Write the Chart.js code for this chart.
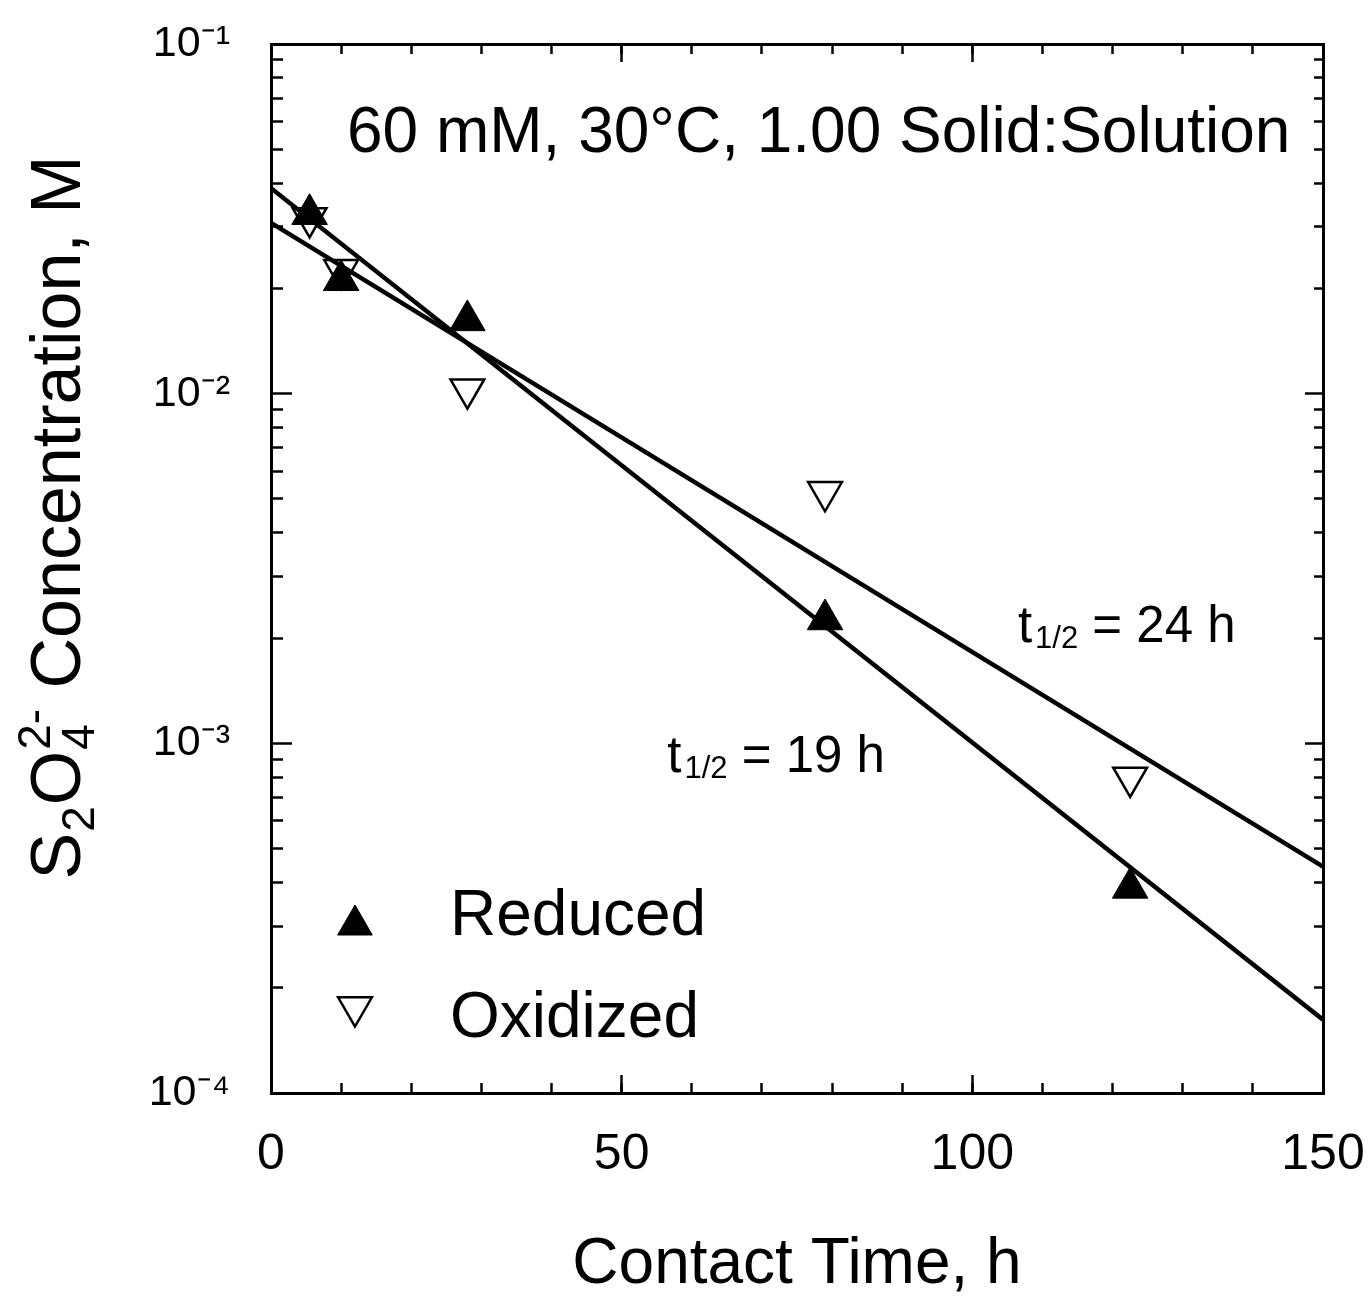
<!DOCTYPE html>
<html><head><meta charset="utf-8">
<script src="https://cdn.jsdelivr.net/npm/chart.js@4/dist/chart.umd.min.js"></script>
<style>html,body{margin:0;padding:0;background:#fff;}canvas{display:block;}</style>
</head><body>
<canvas id="c" width="1368" height="1304"></canvas>
<script>
// ---- data ----
const contactTime   = [5.5, 10, 28, 79, 122.5];
const reducedConc   = [0.0326, 0.0211, 0.0162, 0.00226, 0.000386];
const oxidizedConc  = [0.0318, 0.0226, 0.0103, 0.00524, 0.000799];
const fitTime       = [0, 150];
const reducedFit    = [0.0387, 0.000162];
const oxidizedFit   = [0.0308, 0.000444];
const seriesNames   = ['Reduced', 'Oxidized'];
const xTickValues   = [0, 50, 100, 150];
const yDecadeExp    = [-4, -3, -2, -1];
const yTickLabels   = ['10\u207B\u2074', '10\u207B\u00B3', '10\u207B\u00B2', '10\u207B\u00B9'];
const yMinorMult    = [2, 3, 4, 5, 6, 7, 8, 9];
const conditionText = '60 mM, 30\u00B0C, 1.00 Solid:Solution';
const halfLifeText  = ['19 h', '24 h'];
const xTitle = 'Contact Time, h';
// y title pieces: S2O4(2-) Concentration, M
const yTitleParts = [
  {t: 'S'}, {sub: '2'}, {t: 'O'}, {sub: '4', sup: '2-'}, {t: ' Concentration, M'}
];

const FONT = "'Liberation Sans', Arial, Helvetica, sans-serif";
const BLACK = '#000';

const decadeTicks = () => yDecadeExp.map(e => ({value: Number('1e' + e)}));
const minorTicks = () => {
  const t = [];
  yDecadeExp.forEach(e => { if (e < -1) yMinorMult.forEach(m => t.push({value: Number(m + 'e' + e)})); });
  return t;
};

const pts = (xs, ys) => xs.map((x, i) => ({x, y: ys[i]}));

function axisBase(pos, len, width) {
  return {
    position: pos,
    grid: {display: true, drawOnChartArea: false, drawTicks: true, tickLength: -len, tickWidth: width, tickColor: BLACK},
    border: {display: false},
  };
}

const xCommon = {type: 'linear', min: 0, max: 150};
const yCommon = {type: 'logarithmic', min: 1e-4, max: 1e-1};

const scales = {
  x: Object.assign({}, xCommon, axisBase('bottom', 18, 2.5), {
    weight: 1,
    border: {display: true, color: BLACK, width: 3},
    afterBuildTicks: s => { s.ticks = xTickValues.map(v => ({value: v})); },
    ticks: {color: BLACK, padding: 50, font: {family: FONT, size: 50}, autoSkip: false, maxRotation: 0},
    title: {display: true, text: xTitle, color: BLACK, font: {family: FONT, size: 64}, padding: {top: 0, bottom: 0}},
    afterFit: s => { s.height = 211; s.paddingLeft = 0; s.paddingRight = 0; }
  }),
  xMinor: Object.assign({}, xCommon, axisBase('bottom', 10, 2.5), {
    weight: 0, ticks: {display: false, stepSize: 10}, afterFit: s => { s.height = 0; }
  }),
  xTop: Object.assign({}, xCommon, axisBase('top', 18, 2.5), {
    weight: 1, border: {display: true, color: BLACK, width: 3},
    afterBuildTicks: s => { s.ticks = xTickValues.map(v => ({value: v})); },
    ticks: {display: false}, afterFit: s => { s.height = 0; }
  }),
  xTopMinor: Object.assign({}, xCommon, axisBase('top', 10, 2.5), {
    weight: 0, ticks: {display: false, stepSize: 10}, afterFit: s => { s.height = 0; }
  }),
  y: Object.assign({}, yCommon, axisBase('left', 21, 2.5), {
    weight: 1,
    border: {display: true, color: BLACK, width: 3},
    afterBuildTicks: s => { s.ticks = decadeTicks(); },
    ticks: {color: BLACK, padding: 62, font: {family: FONT, size: 43}, autoSkip: false,
            callback: (v, i) => yTickLabels[i]},
    title: {display: false},
    afterFit: s => { s.width = 271; s.paddingTop = 0; s.paddingBottom = 0; }
  }),
  yMinor: Object.assign({}, yCommon, axisBase('left', 12, 2.5), {
    weight: 0, afterBuildTicks: s => { s.ticks = minorTicks(); },
    ticks: {display: false}, afterFit: s => { s.width = 0; }
  }),
  yRight: Object.assign({}, yCommon, axisBase('right', 18, 2.5), {
    weight: 1, border: {display: true, color: BLACK, width: 3},
    afterBuildTicks: s => { s.ticks = decadeTicks(); },
    ticks: {display: false}, afterFit: s => { s.width = 0; }
  }),
  yRightMinor: Object.assign({}, yCommon, axisBase('right', 9, 2.5), {
    weight: 0, afterBuildTicks: s => { s.ticks = minorTicks(); },
    ticks: {display: false}, afterFit: s => { s.width = 0; }
  })
};

const datasets = [
  {label: seriesNames[0], data: pts(contactTime, reducedConc), xAxisID: 'x', yAxisID: 'y',
   pointStyle: 'triangle', pointRadius: 20.5, pointBorderWidth: 1, rotation: 0,
   backgroundColor: BLACK, borderColor: BLACK, showLine: false},
  {label: seriesNames[1], data: pts(contactTime, oxidizedConc), xAxisID: 'x', yAxisID: 'y',
   pointStyle: 'triangle', pointRadius: 19.5, pointBorderWidth: 2.5, rotation: 180,
   backgroundColor: 'rgba(0,0,0,0)', borderColor: BLACK, showLine: false},
  {label: seriesNames[0] + ' fit', data: pts(fitTime, reducedFit), xAxisID: 'x', yAxisID: 'y',
   showLine: true, pointRadius: 0, borderColor: BLACK, borderWidth: 4.5, fill: false},
  {label: seriesNames[1] + ' fit', data: pts(fitTime, oxidizedFit), xAxisID: 'x', yAxisID: 'y',
   showLine: true, pointRadius: 0, borderColor: BLACK, borderWidth: 4.5, fill: false}
];

function drawTri(ctx, x, y, r, rot, filled, lw) {
  ctx.save();
  ctx.beginPath();
  let rad = rot * Math.PI / 180;
  for (let k = 0; k < 3; k++) {
    const px = x + Math.sin(rad) * r, py = y - Math.cos(rad) * r;
    if (k === 0) ctx.moveTo(px, py); else ctx.lineTo(px, py);
    rad += 2 * Math.PI / 3;
  }
  ctx.closePath();
  ctx.fillStyle = BLACK; ctx.strokeStyle = BLACK; ctx.lineWidth = lw;
  if (filled) ctx.fill();
  ctx.stroke();
  ctx.restore();
}

function drawHalfLife(ctx, x, y, rest) {
  ctx.save();
  ctx.fillStyle = BLACK;
  ctx.textBaseline = 'alphabetic';
  ctx.textAlign = 'left';
  ctx.font = '51px ' + FONT;
  ctx.fillText('t', x, y);
  let cx = x + ctx.measureText('t').width + 3;
  ctx.font = '31px ' + FONT;
  ctx.fillText('1/2', cx, y + 6);
  cx += ctx.measureText('1/2').width;
  ctx.font = '51px ' + FONT;
  ctx.fillText(' = ' + rest, cx, y);
  ctx.restore();
}

function drawYTitle(ctx, baseX, centerY) {
  const MAIN = 70, SCRIPT = 46, SUBDY = 14, SUPDY = -30;
  ctx.save();
  ctx.fillStyle = BLACK;
  ctx.textBaseline = 'alphabetic';
  ctx.textAlign = 'left';
  const widthOf = p => {
    if (p.t) { ctx.font = MAIN + 'px ' + FONT; return ctx.measureText(p.t).width; }
    ctx.font = SCRIPT + 'px ' + FONT;
    return Math.max(p.sub ? ctx.measureText(p.sub).width : 0, p.sup ? ctx.measureText(p.sup).width : 0) + 2;
  };
  const total = yTitleParts.reduce((s, p) => s + widthOf(p), 0);
  ctx.translate(baseX, centerY);
  ctx.rotate(-Math.PI / 2);
  let cx = -total / 2;
  yTitleParts.forEach(p => {
    const w = widthOf(p);
    if (p.t) { ctx.font = MAIN + 'px ' + FONT; ctx.fillText(p.t, cx, 0); }
    else {
      ctx.font = SCRIPT + 'px ' + FONT;
      if (p.sub) ctx.fillText(p.sub, cx + 1, SUBDY);
      if (p.sup) ctx.fillText(p.sup, cx + 1, SUPDY);
    }
    cx += w;
  });
  ctx.restore();
}

const annotations = {
  id: 'annotations',
  afterDraw(chart) {
    const {ctx, chartArea: a, scales: {x, y}} = chart;
    ctx.save();
    ctx.fillStyle = BLACK;
    ctx.font = '64px ' + FONT;
    ctx.textBaseline = 'alphabetic';
    ctx.fillText(conditionText, a.left + 76, a.top + 108);
    // half-life labels placed in data coordinates
    drawHalfLife(ctx, x.getPixelForValue(56.5), y.getPixelForValue(0.00083), halfLifeText[0]);
    drawHalfLife(ctx, x.getPixelForValue(106.5), y.getPixelForValue(0.00195), halfLifeText[1]);
    // legend
    const lx = a.left + 84, tx = a.left + 179;
    drawTri(ctx, lx, a.bottom - 168, 20, 0, true, 1);
    drawTri(ctx, lx, a.bottom - 86, 19.5, 180, false, 2.5);
    ctx.font = '64px ' + FONT;
    ctx.fillText(seriesNames[0], tx, a.bottom - 158);
    ctx.fillText(seriesNames[1], tx, a.bottom - 56);
    ctx.restore();
    // y axis title
    drawYTitle(ctx, 80, (a.top + a.bottom) / 2 - 51);
  }
};

new Chart(document.getElementById('c'), {
  type: 'scatter',
  data: {datasets},
  options: {
    responsive: false, animation: false, devicePixelRatio: 1,
    layout: {padding: {left: 0, top: 44, right: 45, bottom: 0}},
    plugins: {legend: {display: false}, tooltip: {enabled: false}},
    scales
  },
  plugins: [annotations]
});
</script>
</body></html>
